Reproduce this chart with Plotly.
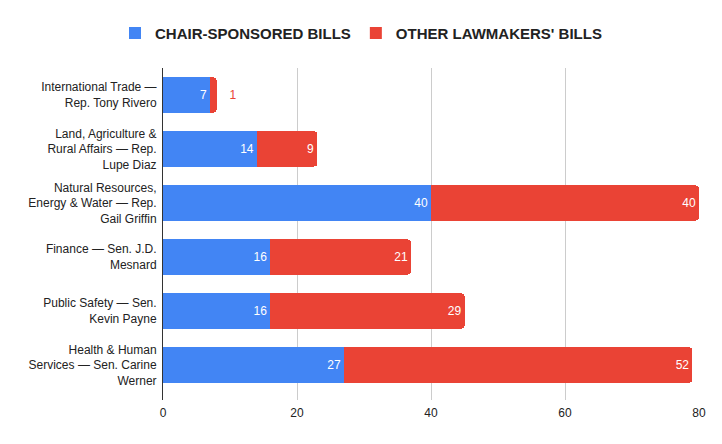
import plotly.graph_objects as go

categories = [
    "International Trade —<br>Rep. Tony Rivero",
    "Land, Agriculture &<br>Rural Affairs — Rep.<br>Lupe Diaz",
    "Natural Resources,<br>Energy & Water — Rep.<br>Gail Griffin",
    "Finance — Sen. J.D.<br>Mesnard",
    "Public Safety — Sen.<br>Kevin Payne",
    "Health & Human<br>Services — Sen. Carine<br>Werner",
]
chair_bills = [7, 14, 40, 16, 16, 27]
other_bills = [1, 9, 40, 21, 29, 52]
x_ticks = [0, 20, 40, 60, 80]
series_names = ["CHAIR-SPONSORED BILLS", "OTHER LAWMAKERS' BILLS"]

BLUE = "#4285F4"
RED = "#EA4335"
FONT = "Liberation Sans, Arial, sans-serif"

fig = go.Figure()
fig.add_trace(go.Bar(
    y=categories, x=chair_bills, orientation="h", name=series_names[0], showlegend=False,
    marker=dict(color=BLUE, line=dict(width=0)),
    text=[str(v) for v in chair_bills], textposition="inside", insidetextanchor="end",
    insidetextfont=dict(color="white", size=12, family=FONT),
    cliponaxis=False, hoverinfo="x+name",
))
outside = [v < 3 for v in other_bills]
fig.add_trace(go.Bar(
    y=categories, x=other_bills, orientation="h", name=series_names[1], showlegend=False,
    marker=dict(color=RED, line=dict(width=0)),
    text=[str(v) for v in other_bills],
    texttemplate=["\u00a0\u00a0\u00a0%{x}" if o else "%{x}" for o in outside],
    textposition=["outside" if o else "inside" for o in outside],
    insidetextanchor="end",
    insidetextfont=dict(color="white", size=12, family=FONT),
    outsidetextfont=dict(color=RED, size=12, family=FONT),
    cliponaxis=False, hoverinfo="x+name",
))
# legend entries with square swatches
for name, color in zip(series_names, [BLUE, RED]):
    fig.add_trace(go.Scatter(
        x=[None], y=[None], mode="markers", name=name,
        marker=dict(symbol="square", size=12, color=color),
        showlegend=True, hoverinfo="skip",
    ))

fig.update_layout(
    width=722, height=444,
    barmode="stack", bargap=0.35, barcornerradius=3,
    paper_bgcolor="white", plot_bgcolor="white",
    margin=dict(l=163, r=23, t=68, b=44, autoexpand=False),
    font=dict(family=FONT, size=12, color="#222222"),
    legend=dict(orientation="h", x=0.5, xanchor="center", xref="container",
                y=1.105, yanchor="middle",
                font=dict(size=15, color="#222222", family=FONT, weight=600),
                traceorder="normal", itemwidth=30),
    showlegend=True,
    xaxis=dict(range=[0, 80], tickvals=x_ticks, showgrid=True, gridcolor="#cccccc",
               gridwidth=1, zeroline=False, showline=False, ticks="", automargin=False,
               ticklabelstandoff=4,
               tickfont=dict(size=12, color="#222222")),
    yaxis=dict(type="category", categoryorder="array", categoryarray=categories,
               range=[5.648, -0.5], showgrid=False, showline=True, linecolor="#333333",
               linewidth=1, ticks="", ticklabelstandoff=3, automargin=False,
               tickfont=dict(size=12, color="#222222")),
)

fig.write_html("out.html", config={"displayModeBar": False},
               post_script="document.body.style.margin='0';")
